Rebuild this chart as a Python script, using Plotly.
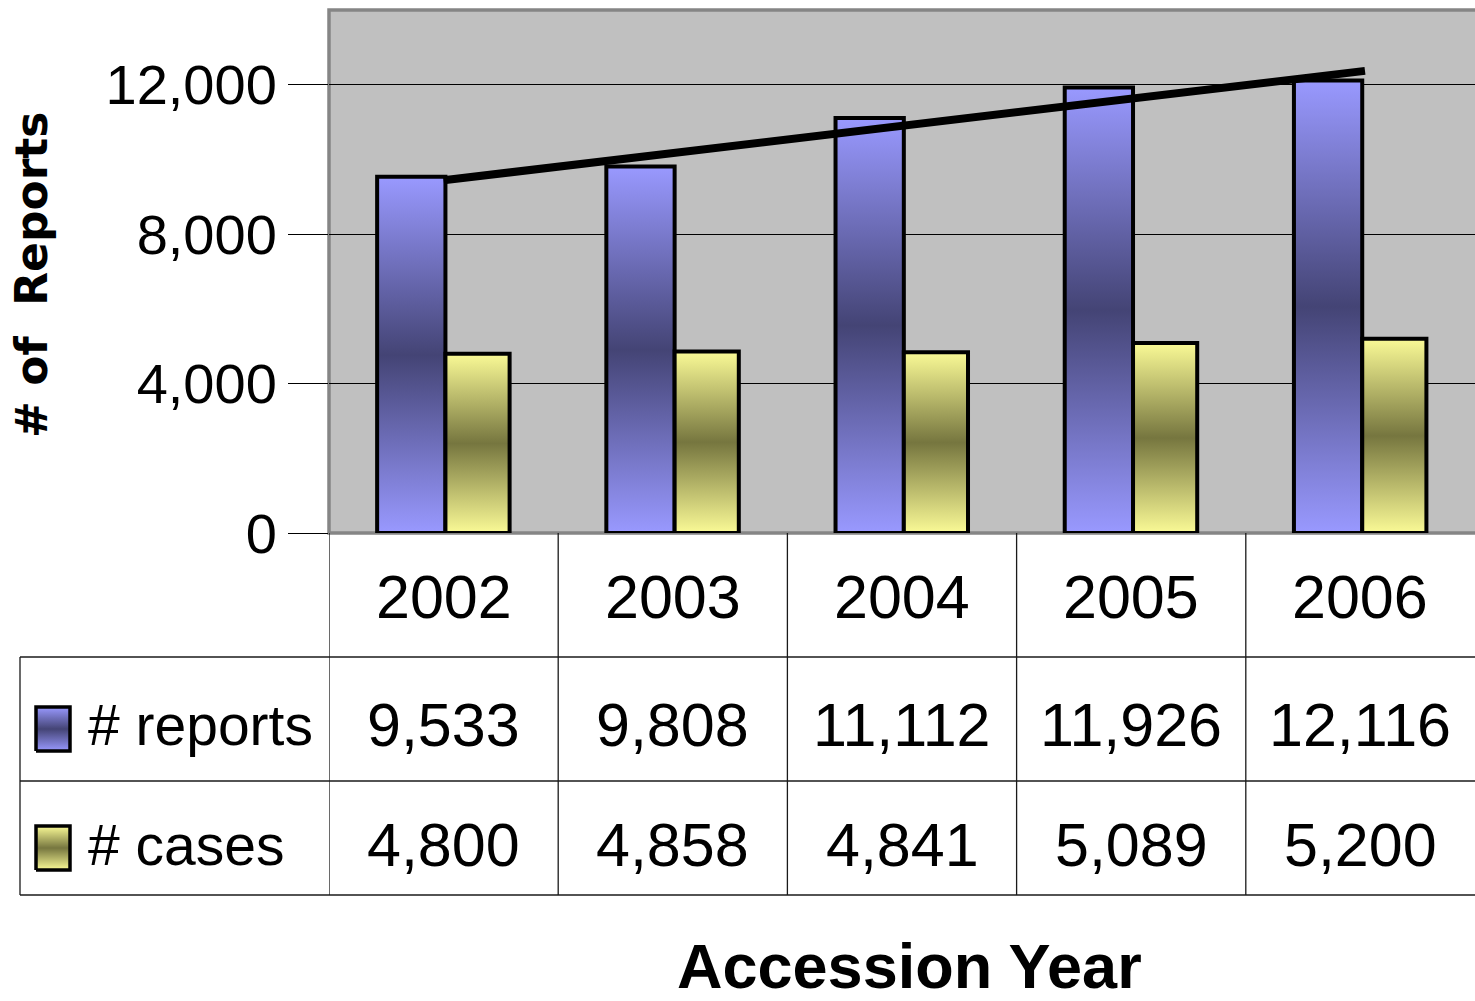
import numpy as np
import plotly.graph_objects as go

# ---------------- data ----------------
years = ["2002", "2003", "2004", "2005", "2006"]
reports = [9533, 9808, 11112, 11926, 12116]
cases = [4800, 4858, 4841, 5089, 5200]
series_names = ["# reports", "# cases"]
y_ticks = [0, 4000, 8000, 12000]
x_title = "Accession Year"
y_title = "# of  Reports"

# ---------------- layout helpers (pixel -> paper) ----------------
W, H = 1475, 1001
PL, PT, PB = 329, 10, 533          # plot area edges in px
def fx(x):
    return x / W
def fy(y):
    return 1 - y / H

FONT = "Liberation Sans Narrow, Arial Narrow, Liberation Sans, Arial, sans-serif"
REP_SCALE = [[0, "#9999FF"], [0.5, "#444475"], [1, "#9999FF"]]
CAS_SCALE = [[0, "#FAFA96"], [0.5, "#76763F"], [1, "#FAFA96"]]
scales = [REP_SCALE, CAS_SCALE]

fig = go.Figure()

# ---------------- bars (gradient filled polygons in data coords) ----------------
edges = [(-0.29, 0.008), (0.008, 0.288)]   # offsets of each series' bar inside a category
for s, vals in enumerate([reports, cases]):
    lo, hi = edges[s]
    for i, v in enumerate(vals):
        x0, x1 = i + lo, i + hi
        fig.add_trace(go.Scatter(
            x=[x0, x0, x1, x1, x0], y=[0, v, v, 0, 0],
            mode="lines", fill="toself",
            fillgradient=dict(type="vertical", colorscale=scales[s]),
            line=dict(color="black", width=4),
            showlegend=False, hoverinfo="skip",
        ))

# ---------------- linear trend of reports ----------------
xi = np.arange(len(years))
slope, intercept = np.polyfit(xi, reports, 1)
x_end = xi[-1] + 0.02
fig.add_trace(go.Scatter(
    x=[xi[0], x_end], y=[intercept + slope * xi[0], intercept + slope * x_end],
    mode="lines", line=dict(color="black", width=8),
    showlegend=False, hoverinfo="skip",
))

# ---------------- legend keys in the table (pixel overlay axes) ----------------
key_rows = [729, 848]
for s, yc in enumerate(key_rows):
    kx0, kx1, ky0, ky1 = 36, 70, yc - 22, yc + 22
    fig.add_trace(go.Scatter(
        x=[kx0, kx0, kx1, kx1, kx0], y=[ky1, ky0, ky0, ky1, ky1],
        xaxis="x2", yaxis="y2", mode="lines", fill="toself",
        fillgradient=dict(type="vertical", colorscale=scales[s]),
        line=dict(color="black", width=3.5),
        showlegend=False, hoverinfo="skip",
    ))

shapes = []
shapes.append(dict(type="rect", xref="paper", yref="paper",
                   x0=fx(PL), x1=1.01, y0=fy(PB), y1=fy(PT),
                   fillcolor="#C0C0C0", line=dict(color="#858585", width=3.5), layer="below"))

TABLE_LINE = dict(color="#1a1a1a", width=1.3)
for yline in [657, 781, 895]:
    shapes.append(dict(type="line", xref="paper", yref="paper",
                       x0=fx(20), x1=1, y0=fy(yline), y1=fy(yline), line=TABLE_LINE))
shapes.append(dict(type="line", xref="paper", yref="paper",
                   x0=fx(20), x1=fx(20), y0=fy(657), y1=fy(895), line=TABLE_LINE))
for k in range(len(years)):
    shapes.append(dict(type="line", xref="x", yref="paper",
                       x0=k - 0.5, x1=k - 0.5, y0=fy(PB), y1=fy(895), line=TABLE_LINE))

annotations = []
row_y = [597, 725, 845]
for i, yr in enumerate(years):
    annotations.append(dict(x=i, xref="x", y=fy(row_y[0]), yref="paper", text=yr,
                            xanchor="center", yanchor="middle", showarrow=False,
                            font=dict(family=FONT, size=61, color="black")))
    for r, vals in enumerate([reports, cases]):
        annotations.append(dict(x=i, xref="x", y=fy(row_y[r + 1]), yref="paper",
                                text=f"{vals[i]:,}", xanchor="center", yanchor="middle",
                                showarrow=False,
                                font=dict(family=FONT, size=61, color="black")))
for r, name in enumerate(series_names):
    annotations.append(dict(x=fx(86), xref="paper", y=fy(row_y[r + 1]), yref="paper",
                            text=name, xanchor="left", yanchor="middle", showarrow=False,
                            font=dict(family=FONT, size=57, color="black")))

annotations.append(dict(x=fx(909), y=fy(966), xref="paper", yref="paper",
                        text=f"<b>{x_title}</b>", xanchor="center", yanchor="middle",
                        showarrow=False,
                        font=dict(family=FONT, size=63, color="black")))
annotations.append(dict(x=fx(31), y=fy(275), xref="paper", yref="paper",
                        text=f"<b>{y_title}</b>", textangle=-90,
                        xanchor="center", yanchor="middle", showarrow=False,
                        font=dict(family="DejaVu Sans, Liberation Sans, sans-serif", size=44, color="black")))

fig.update_layout(
    width=W, height=H,
    margin=dict(l=0, r=0, t=0, b=0, pad=0, autoexpand=False),
    paper_bgcolor="white", plot_bgcolor="rgba(0,0,0,0)",
    showlegend=False,
    shapes=shapes, annotations=annotations,
    xaxis=dict(domain=[fx(PL), 1], range=[-0.5, len(years) - 0.5],
               showticklabels=False, showgrid=False, zeroline=False, showline=False,
               ticks="", fixedrange=True, automargin=False),
    yaxis=dict(domain=[fy(PB), fy(PT)], range=[0, 14000], tickvals=y_ticks,
               tickformat=",d", ticks="outside", ticklen=40, tickcolor="black", tickwidth=1,
               showgrid=True, gridcolor="black", gridwidth=1, zeroline=False, showline=False,
               tickfont=dict(family=FONT, size=56, color="black"), fixedrange=True,
               automargin=False),
    xaxis2=dict(domain=[0, 1], range=[0, W], visible=False, fixedrange=True, anchor="y2",
                automargin=False),
    yaxis2=dict(domain=[0, 1], range=[H, 0], visible=False, fixedrange=True, anchor="x2",
                automargin=False),
)

fig.write_html("out.html", config={"displayModeBar": False},
               post_script="document.body.style.margin='0';")
